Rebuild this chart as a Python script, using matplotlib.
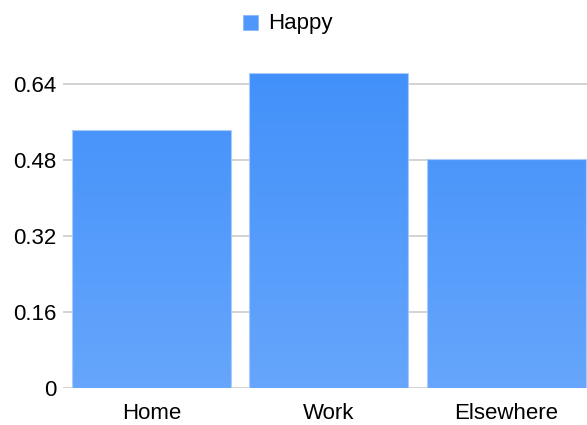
import numpy as np
import matplotlib
matplotlib.use("Agg")
import matplotlib.pyplot as plt
from matplotlib.patches import Rectangle
from matplotlib.colors import LinearSegmentedColormap

categories = ["Home", "Work", "Elsewhere"]
happy = [0.543, 0.663, 0.482]
yticks = [0, 0.16, 0.32, 0.48, 0.64]
series_name = "Happy"

plt.rcParams["font.family"] = ["Liberation Sans", "DejaVu Sans"]

W, H = 587, 425
fig = plt.figure(figsize=(W / 100, H / 100), dpi=100)
left, right, bottom, top = 63, 587, 388, 50
ax = fig.add_axes([left / W, 1 - bottom / H, (right - left) / W, (bottom - top) / H])

ymax = 0.64 * (bottom - top) / (388 - 84)
xlo, xhi = -0.5, 2.456

cmap = LinearSegmentedColormap.from_list("bar", ["#66a6fc", "#3f8ffa"])
grad = np.linspace(0, 1, 256).reshape(-1, 1)
width = 0.896
x = np.arange(len(categories))
for xi, v in zip(x, happy):
    rect = Rectangle((xi - width / 2, 0), width, v, facecolor="none",
                     edgecolor="#a9cbfb", linewidth=0.8, zorder=3)
    ax.add_patch(rect)
    im = ax.imshow(grad, cmap=cmap, origin="lower", aspect="auto",
                   extent=(xi - width / 2, xi + width / 2, 0, ymax), zorder=2)
    im.set_clip_path(rect)

ax.set_xlim(xlo, xhi)
ax.set_ylim(0, ymax)

ax.set_yticks(yticks)
ax.set_yticklabels(["0", "0.16", "0.32", "0.48", "0.64"])
ax.set_xticks(x)
ax.set_xticklabels(categories)
ax.tick_params(axis="both", length=0, labelsize=16, colors="black")
ax.tick_params(axis="y", pad=4.5)
ax.tick_params(axis="x", pad=10.5)
ax.grid(axis="y", color="#cccccc", linewidth=1.2, zorder=1)
ax.set_axisbelow(True)
for s in ax.spines.values():
    s.set_visible(False)

# legend
fig.patches.append(Rectangle((243 / W, 1 - 30 / H), 15 / W, 15 / H,
                             transform=fig.transFigure, facecolor="#4f97fb",
                             edgecolor="#8ab9fb", linewidth=0.6))
fig.text(268 / W, 1 - 23 / H, series_name, fontsize=16, va="center", ha="left")

fig.savefig("out.png", dpi=100)
